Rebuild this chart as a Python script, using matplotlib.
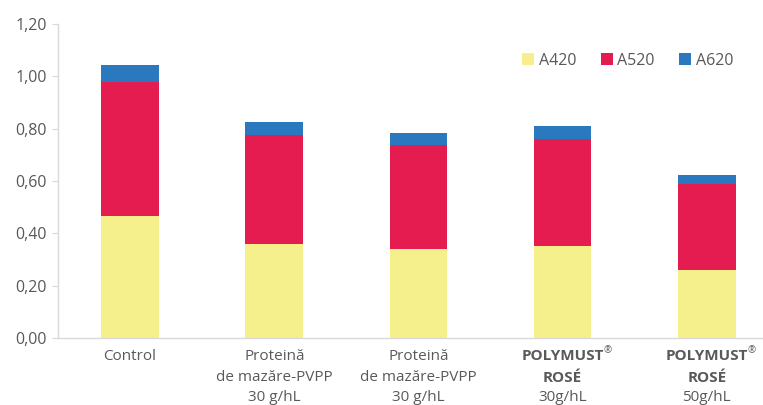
import matplotlib
matplotlib.use("Agg")
import matplotlib.pyplot as plt
import numpy as np

categories = ["Control", "Proteină de mazăre-PVPP 30 g/hL", "Proteină de mazăre-PVPP 30 g/hL",
              "POLYMUST® ROSÉ 30g/hL", "POLYMUST® ROSÉ 50g/hL"]
a420 = [0.466, 0.359, 0.340, 0.352, 0.260]
a520 = [0.513, 0.417, 0.397, 0.408, 0.330]
a620 = [0.064, 0.049, 0.046, 0.050, 0.033]
series_names = ["A420", "A520", "A620"]
yticks = [0.0, 0.2, 0.4, 0.6, 0.8, 1.0, 1.2]

colors = ["#F5F08C", "#E41C50", "#2A78BE"]
text_color = "#595959"
plt.rcParams['font.family'] = ['Open Sans', 'DejaVu Sans']

fig = plt.figure(figsize=(7.63, 4.05), dpi=100)
ax = fig.add_axes([58/763, 1-338/405, 1-58/763, (338-24)/405])

x = np.arange(len(categories))
w = 0.4
b1 = ax.bar(x, a420, w, color=colors[0], label=series_names[0])
b2 = ax.bar(x, a520, w, bottom=a420, color=colors[1], label=series_names[1])
bottom2 = np.array(a420) + np.array(a520)
b3 = ax.bar(x, a620, w, bottom=bottom2, color=colors[2], label=series_names[2])

ax.set_ylim(0, 1.2)
ax.set_xlim(-0.5, 4.39)
ax.set_yticks(yticks)
ax.set_yticklabels([f"{v:.2f}".replace(".", ",") for v in yticks], fontsize=11.5, color=text_color)
ax.tick_params(axis='y', length=4, color="#d9d9d9", pad=4)
ax.set_xticks([])
for s in ["top", "right"]:
    ax.spines[s].set_visible(False)
for s in ["left", "bottom"]:
    ax.spines[s].set_color("#d9d9d9")
    ax.spines[s].set_linewidth(1.0)

tr = ax.get_xaxis_transform()
fs = 11

def px(dy):
    return -dy / 314.0

rows = [18, 39.5, 59.5]
for i, cat in enumerate(categories):
    if i == 0:
        ax.text(x[i], px(rows[0]), "Control", ha='center', va='center', fontsize=fs, color=text_color, transform=tr)
    elif i in (1, 2):
        ax.text(x[i], px(rows[0]), "Proteină", ha='center', va='center', fontsize=fs, color=text_color, transform=tr)
        ax.text(x[i], px(rows[1]), "de mazăre-PVPP", ha='center', va='center', fontsize=fs, color=text_color, transform=tr)
        ax.text(x[i], px(rows[2]), "30 g/hL", ha='center', va='center', fontsize=fs, color=text_color, transform=tr)
    else:
        t = ax.text(x[i], px(rows[0]), "POLYMUST", ha='center', va='center', fontsize=fs, color=text_color,
                    fontweight='bold', transform=tr)
        ax.annotate("®", xy=(1.0, 1.0), xycoords=t, ha='left', va='top', fontsize=7,
                    color=text_color, xytext=(-0.5, 2.5), textcoords='offset points')
        ax.text(x[i], px(rows[1]), "ROSÉ", ha='center', va='center', fontsize=fs, color=text_color,
                fontweight='bold', transform=tr)
        dose = cat.split()[-1]
        ax.text(x[i], px(rows[2]), dose, ha='center', va='center', fontsize=fs, color=text_color, transform=tr)

leg = ax.legend(handles=[b1, b2, b3], loc='upper right', bbox_to_anchor=(0.978, 0.955), ncol=3,
                frameon=False, fontsize=11.5, handlelength=0.75, handleheight=0.75,
                handletextpad=0.3, columnspacing=1.5, labelcolor=text_color)

fig.savefig("out.png", dpi=100)
